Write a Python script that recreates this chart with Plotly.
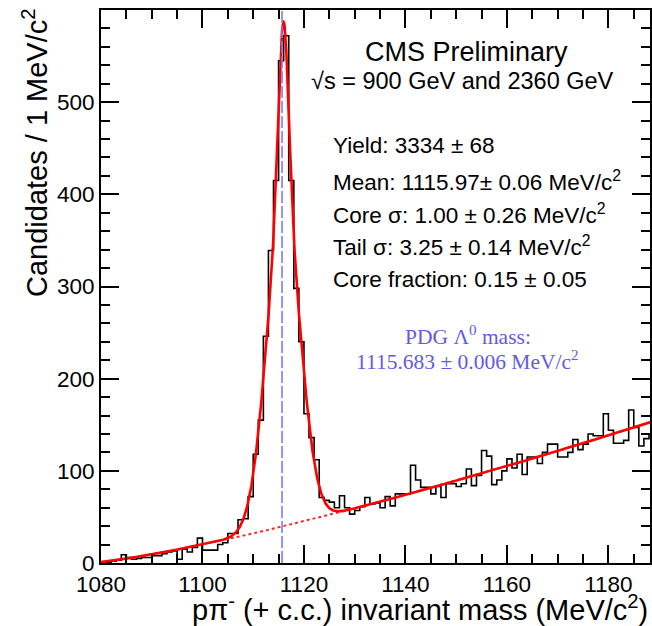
import numpy as np
import plotly.graph_objects as go

# ---------------- data ----------------
BIN_START = 1080
BIN_WIDTH = 1.0
counts = [0, 1, 2, 3, 9, 6, 4, 5, 6, 6,            # 1080-1089
          8, 8, 10, 12, 13, 4, 15, 12, 17, 27,     # 1090-1099
          14, 14, 14, 20, 22, 32, 32, 47, 48, 72,  # 1100-1109
          118, 155, 246, 339, 415, 545, 572, 415, 298, 240,  # 1110-1119
          162, 136, 112, 71, 68, 66, 60, 73, 60, 53,  # 1120-1129
          57, 61, 71, 64, 65, 60, 72, 62, 75, 75,     # 1130-1139
          75, 106, 90, 82, 82, 75, 83, 71, 86, 86,    # 1140-1149
          83, 86, 102, 84, 95, 122, 116, 85, 90, 100, # 1150-1159
          113, 103, 118, 96, 115, 115, 108, 120, 129, 129,  # 1160-1169
          115, 115, 120, 134, 123, 129, 140, 138, 138, 162, # 1170-1179
          144, 130, 130, 133, 166, 147, 127, 135, 140]      # 1180-1188

# fit results (as quoted on the plot) and background shape parameters
FIT_YIELD = 3334
FIT_MEAN = 1115.97
CORE_SIGMA = 1.00
TAIL_SIGMA = 3.25
CORE_FRAC = 0.15
BKG_THRESHOLD = 1078.0
BKG_NORM = 0.408
BKG_POWER = 1.26
PDG_MASS = 1115.683

x_ticks = [1080, 1100, 1120, 1140, 1160, 1180]
y_ticks = [0, 100, 200, 300, 400, 500]
X_RANGE = [1080, 1188.2]
Y_RANGE = [0, 600]

# ---------------- derived ----------------
edges = BIN_START + BIN_WIDTH * np.arange(len(counts) + 1)
step_y = list(counts) + [counts[-1]]

m = np.linspace(X_RANGE[0], X_RANGE[1], 2200)
def gauss(x, mu, s):
    return np.exp(-0.5 * ((x - mu) / s) ** 2) / (np.sqrt(2 * np.pi) * s)
bkg = BKG_NORM * np.clip(m - BKG_THRESHOLD, 0, None) ** BKG_POWER
sig = FIT_YIELD * BIN_WIDTH * (CORE_FRAC * gauss(m, FIT_MEAN, CORE_SIGMA)
                               + (1 - CORE_FRAC) * gauss(m, FIT_MEAN, TAIL_SIGMA))
total = sig + bkg

# ---------------- layout geometry ----------------
W, H = 652, 626
L, R, T, B = 101, 2, 10, 63
PW, PH = W - L - R, H - T - B
def px(x):
    return (x - L) / PW
def py(y):
    return (H - B - y) / PH

FONT = "Liberation Sans, Arial, Helvetica, sans-serif"
SERIF = "Liberation Serif, Times New Roman, serif"
BLUE_TXT = "rgb(95,90,235)"

fig = go.Figure()
fig.add_shape(type="line", xref="x", yref="paper", x0=PDG_MASS, x1=PDG_MASS,
              y0=0, y1=1, line=dict(color="rgb(125,125,240)", width=1.6, dash="12px,3px"))
fig.add_trace(go.Scatter(x=edges, y=step_y, mode="lines", line_shape="hv",
                         line=dict(color="black", width=1.6), hoverinfo="skip"))
fig.add_trace(go.Scatter(x=m, y=bkg, mode="lines",
                         line=dict(color="rgb(255,40,40)", width=2, dash="dot"), hoverinfo="skip"))
fig.add_trace(go.Scatter(x=m, y=total, mode="lines",
                         line=dict(color="rgb(255,0,0)", width=2.6), hoverinfo="skip"))

ann = []
def add_text(text, x, y, size, xanchor="left", color="black", family=FONT, angle=0):
    ann.append(dict(text=text, x=px(x), y=py(y), xref="paper", yref="paper",
                    xanchor=xanchor, yanchor="middle", showarrow=False, textangle=angle,
                    font=dict(size=size, color=color, family=family)))

add_text("CMS Preliminary", 466, 52, 27, "center")
add_text("√s = 900 GeV and 2360 GeV", 462, 81, 23.5, "center")
add_text("Yield: 3334 ± 68", 331, 146, 22.5)
add_text("Mean: 1115.97± 0.06 MeV/c<sup>2</sup>", 331, 181, 22.5)
add_text("Core σ: 1.00 ± 0.26 MeV/c<sup>2</sup>", 331, 214, 22.5)
add_text("Tail σ: 3.25 ± 0.14 MeV/c<sup>2</sup>", 331, 246, 22.5)
add_text("Core fraction: 0.15 ± 0.05", 331, 279, 22.5)
add_text("PDG Λ<sup>0</sup> mass:", 468, 335, 21.5, "center", BLUE_TXT, SERIF)
add_text("1115.683 ± 0.006 MeV/c<sup>2</sup>", 467, 360, 21.5, "center", BLUE_TXT, SERIF)
add_text("pπ<sup>-</sup> (+ c.c.) invariant mass (MeV/c<sup>2</sup>)", 190, 608, 29)
add_text("Candidates / 1 MeV/c<sup>2</sup>", 35, 153, 29, "center", angle=-90)

axis_common = dict(showline=True, linecolor="black", linewidth=2, mirror="allticks",
                   ticks="inside", tickcolor="black", tickwidth=1.6, ticklen=18,
                   showgrid=False, zeroline=False,
                   tickfont=dict(family=FONT, size=22.5, color="black"))
fig.update_xaxes(range=X_RANGE, tickvals=x_ticks, ticktext=[str(v) for v in x_ticks],
                 minor=dict(dtick=5, ticks="inside", ticklen=9, tickcolor="black", tickwidth=1.6),
                 **axis_common)
fig.update_yaxes(range=Y_RANGE, tickvals=y_ticks, ticktext=[str(v) for v in y_ticks],
                 minor=dict(dtick=20, ticks="inside", ticklen=9, tickcolor="black", tickwidth=1.6),
                 **axis_common)
fig.update_layout(width=W, height=H, margin=dict(l=L, r=R, t=T, b=B, autoexpand=False),
                  paper_bgcolor="white", plot_bgcolor="white", showlegend=False,
                  annotations=ann, font=dict(family=FONT))
fig.write_html("out.html", config={"displayModeBar": False},
               post_script="document.body.style.margin='0px';document.body.style.overflow='hidden';")
